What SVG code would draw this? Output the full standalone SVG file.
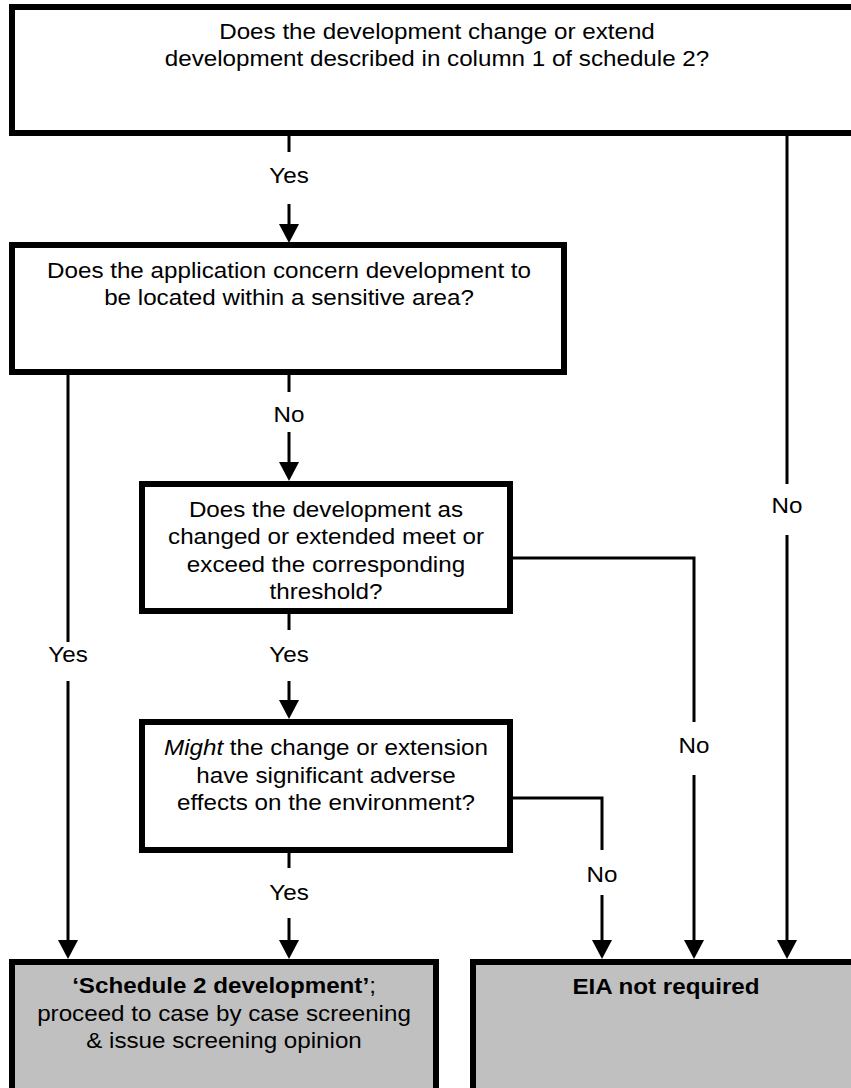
<svg xmlns="http://www.w3.org/2000/svg" width="851" height="1088" viewBox="0 0 851 1088">
<style>
.box{fill:#ffffff;stroke:#000;stroke-width:6}
.end{fill:#c0c0c0;stroke:#000;stroke-width:6}
.t{font-family:"Liberation Sans",Arial,sans-serif;font-size:22px;fill:#000;text-anchor:middle}
.b{font-weight:bold}
.c{fill:none;stroke:#000;stroke-width:3}
</style>
<defs>
<marker id="ah" markerUnits="userSpaceOnUse" markerWidth="20" markerHeight="20" refX="14" refY="10" orient="auto">
<path d="M0,0 L19,10 L0,20 Z" fill="#000"/>
</marker>
</defs>
<rect width="851" height="1088" fill="#fff"/>

<g id="n1">
<rect class="box" x="12" y="7" width="850" height="126"/>
<g transform="translate(437 0) scale(1.1 1)">
<text class="t" x="0" y="39">Does the development change or extend</text>
<text class="t" x="0" y="66">development described in column 1 of schedule 2?</text>
</g>
</g>

<g id="n2">
<rect class="box" x="12" y="245" width="552" height="127"/>
<g transform="translate(289 0) scale(1.1 1)">
<text class="t" x="0" y="278">Does the application concern development to</text>
<text class="t" x="0" y="305">be located within a sensitive area?</text>
</g>
</g>

<g id="n3">
<rect class="box" x="142" y="484" width="368" height="127"/>
<g transform="translate(326 0) scale(1.1 1)">
<text class="t" x="0" y="517">Does the development as</text>
<text class="t" x="0" y="544">changed or extended meet or</text>
<text class="t" x="0" y="572">exceed the corresponding</text>
<text class="t" x="0" y="599">threshold?</text>
</g>
</g>

<g id="n4">
<rect class="box" x="142" y="722" width="368" height="128"/>
<g transform="translate(326 0) scale(1.1 1)">
<text class="t" x="0" y="755"><tspan font-style="italic">Might</tspan> the change or extension</text>
<text class="t" x="0" y="783">have significant adverse</text>
<text class="t" x="0" y="810">effects on the environment?</text>
</g>
</g>

<g id="n5">
<rect class="end" x="12" y="962" width="424" height="150"/>
<g transform="translate(224 0) scale(1.1 1)">
<text class="t" x="0" y="993"><tspan class="b">‘Schedule 2 development’</tspan>;</text>
<text class="t" x="0" y="1021">proceed to case by case screening</text>
<text class="t" x="0" y="1048">&amp; issue screening opinion</text>
</g>
</g>

<g id="n6">
<rect class="end" x="473" y="962" width="387" height="150"/>
<g transform="translate(666 0) scale(1.1 1)">
<text class="t b" x="0" y="994">EIA not required</text>
</g>
</g>

<g id="connectors">
<path class="c" d="M289,133 V152"/>
<path class="c" d="M289,204 V238" marker-end="url(#ah)"/>
<path class="c" d="M289,372 V392"/>
<path class="c" d="M289,432 V476" marker-end="url(#ah)"/>
<path class="c" d="M289,611 V630"/>
<path class="c" d="M289,681 V714" marker-end="url(#ah)"/>
<path class="c" d="M289,850 V868"/>
<path class="c" d="M289,918 V954" marker-end="url(#ah)"/>
<path class="c" d="M68,372 V642"/>
<path class="c" d="M68,681 V954" marker-end="url(#ah)"/>
<path class="c" d="M510,558 H694 V722"/>
<path class="c" d="M694,775 V954" marker-end="url(#ah)"/>
<path class="c" d="M510,798 H602 V850"/>
<path class="c" d="M602,895 V954" marker-end="url(#ah)"/>
<path class="c" d="M787,133 V484"/>
<path class="c" d="M787,535 V954" marker-end="url(#ah)"/>
</g>

<g id="labels">
<g transform="translate(289 0) scale(1.1 1)">
<text class="t" x="0" y="183">Yes</text>
<text class="t" x="0" y="422">No</text>
<text class="t" x="0" y="662">Yes</text>
<text class="t" x="0" y="900">Yes</text>
</g>
<g transform="translate(68 0) scale(1.1 1)"><text class="t" x="0" y="662">Yes</text></g>
<g transform="translate(694 0) scale(1.1 1)"><text class="t" x="0" y="753">No</text></g>
<g transform="translate(602 0) scale(1.1 1)"><text class="t" x="0" y="882">No</text></g>
<g transform="translate(787 0) scale(1.1 1)"><text class="t" x="0" y="513">No</text></g>
</g>
</svg>
